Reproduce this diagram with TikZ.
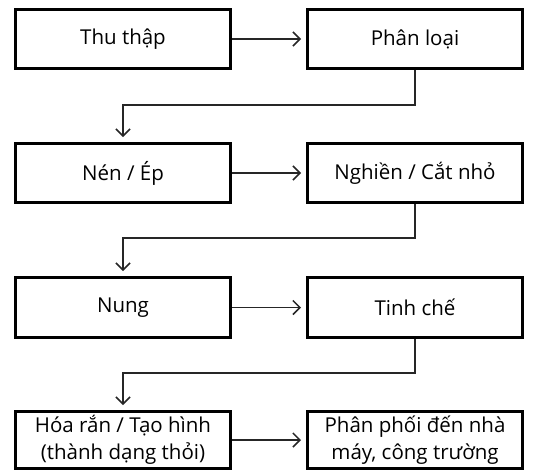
\documentclass[tikz,border=0pt]{standalone}
\usepackage{fontspec}
\setmainfont{Open Sans}
\usetikzlibrary{arrows.meta}
\begin{document}
\begin{tikzpicture}[x=1pt,y=-1pt,
  box/.style={draw=black,line width=3pt,minimum width=215pt,minimum height=59pt,inner sep=0pt,font=\fontsize{20.5}{27}\selectfont,align=center,anchor=north west},
  conn/.style={line width=1.5pt,draw=black!85,shorten >=5pt,-{Straight Barb[length=7pt,width=14pt,line width=1.5pt]}}]
\useasboundingbox (0,0) rectangle (534,469);
\fill[white] (0,0) rectangle (534,469);
\node[box] (a) at (14,8) {Thu thập};
\node[box] (b) at (306,8) {Phân loại};
\node[box] (c) at (14,142) {Nén / Ép};
\node[box] (d) at (306,142) {Nghiền / Cắt nhỏ};
\node[box,minimum height=60pt] (e) at (14,276) {Nung};
\node[box,minimum height=60pt] (f) at (306,276) {Tinh chế};
\node[box,minimum height=57pt] (g) at (14,410) {Hóa rắn / Tạo hình\\(thành dạng thỏi)};
\node[box,minimum height=57pt] (h) at (306,410) {Phân phối đến nhà\\máy, công trường};
\draw[conn] (a) -- (b);
\draw[conn] (c) -- (d);
\draw[conn] (e) -- (f);
\draw[conn] (g) -- (h);
\draw[conn] (b.south) |- (123,105) -- (c.north -| 123,0);
\draw[conn] (d.south) |- (123,238) -- (e.north -| 123,0);
\draw[conn] (f.south) |- (123,373) -- (g.north -| 123,0);
\end{tikzpicture}
\end{document}
